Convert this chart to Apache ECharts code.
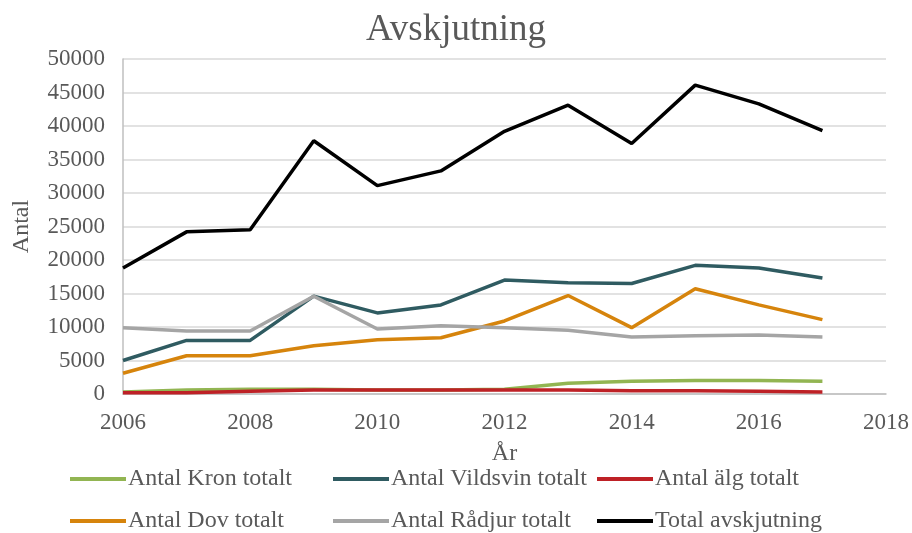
<!DOCTYPE html>
<html>
<head>
<meta charset="utf-8">
<script src="https://cdn.jsdelivr.net/npm/echarts@6/dist/echarts.min.js"></script>
<style>
  html, body { margin: 0; padding: 0; background: #fff; }
  #chart { width: 912px; height: 533px; }
</style>
</head>
<body>
<div id="chart"></div>
<script>
// år
var years = [2006, 2007, 2008, 2009, 2010, 2011, 2012, 2013, 2014, 2015, 2016, 2017];
// avskjutning per art
var kron     = [300, 600, 700, 700, 600, 600, 700, 1600, 1900, 2000, 2000, 1900];
var vildsvin = [5000, 8000, 8000, 14600, 12100, 13300, 17000, 16600, 16500, 19200, 18800, 17300];
var alg      = [200, 200, 400, 600, 600, 600, 600, 600, 500, 500, 400, 300];
var dov      = [3100, 5700, 5700, 7200, 8100, 8400, 10900, 14700, 9900, 15700, 13300, 11100];
var radjur   = [9900, 9400, 9400, 14600, 9700, 10200, 9900, 9500, 8500, 8700, 8800, 8500];
var total    = [18800, 24200, 24500, 37800, 31100, 33300, 39200, 43100, 37400, 46100, 43300, 39300];

function pairs(arr) {
  return years.map(function (y, i) { return [y, arr[i]]; });
}

var myChart = echarts.init(document.getElementById('chart'));
var font = '"Liberation Serif", "Times New Roman", serif';

var seriesList = [
  { name: 'Antal Kron totalt', data: kron, color: '#92B552' },
  { name: 'Antal Vildsvin totalt', data: vildsvin, color: '#2F5B61' },
  { name: 'Antal älg totalt', data: alg, color: '#BE2126' },
  { name: 'Antal Dov totalt', data: dov, color: '#D6840C' },
  { name: 'Antal Rådjur totalt', data: radjur, color: '#A5A5A5' },
  { name: 'Total avskjutning', data: total, color: '#000000' }
];

var legendBase = {
  orient: 'vertical',
  top: 467,
  padding: 0,
  itemGap: 18,
  itemWidth: 56,
  itemHeight: 4,
  icon: 'rect',
  textStyle: { fontFamily: font, fontSize: 24, color: '#595959', padding: [0, 0, 0, -3] }
};

var option = {
  animation: false,
  textStyle: { fontFamily: font },
  title: {
    text: 'Avskjutning',
    left: 'center',
    top: 7,
    textStyle: { fontFamily: font, fontSize: 37, fontWeight: 'normal', color: '#595959' }
  },
  legend: [
    Object.assign({}, legendBase, { left: 70, data: ['Antal Kron totalt', 'Antal Dov totalt'] }),
    Object.assign({}, legendBase, { left: 333, data: ['Antal Vildsvin totalt', 'Antal Rådjur totalt'] }),
    Object.assign({}, legendBase, { left: 597, data: ['Antal älg totalt', 'Total avskjutning'] })
  ],
  grid: { left: 123, right: 26, top: 59, bottom: 139, outerBoundsMode: 'none', containLabel: false },
  xAxis: {
    type: 'value',
    min: 2006,
    max: 2018,
    interval: 2,
    name: 'År',
    nameLocation: 'middle',
    nameGap: 48,
    nameTextStyle: { fontFamily: font, fontSize: 24, color: '#595959' },
    axisLine: { show: true, lineStyle: { color: '#BFBFBF', width: 1.5 } },
    axisTick: { show: false },
    splitLine: { show: false },
    axisLabel: { fontFamily: font, fontSize: 23, color: '#595959', margin: 17, formatter: function (v) { return String(v); } }
  },
  yAxis: {
    type: 'value',
    min: 0,
    max: 50000,
    interval: 5000,
    name: 'Antal',
    nameLocation: 'middle',
    nameRotate: 90,
    nameGap: 89,
    nameTextStyle: { fontFamily: font, fontSize: 24, color: '#595959' },
    axisLine: { show: true, lineStyle: { color: '#BFBFBF', width: 1.5 } },
    axisTick: { show: false },
    splitLine: { lineStyle: { color: '#D9D9D9', width: 1.5 } },
    axisLabel: { fontFamily: font, fontSize: 23, color: '#595959', margin: 18, formatter: function (v) { return String(v); } }
  },
  series: seriesList.map(function (s) {
    return {
      name: s.name,
      type: 'line',
      data: pairs(s.data),
      showSymbol: false,
      symbol: 'none',
      color: s.color,
      lineStyle: { color: s.color, width: 3.5 },
      itemStyle: { color: s.color }
    };
  })
};

myChart.setOption(option);
</script>
</body>
</html>
